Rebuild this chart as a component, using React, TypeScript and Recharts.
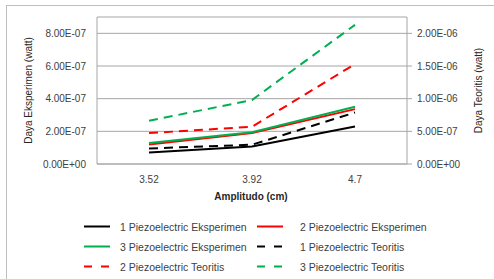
import { LineChart, Line, XAxis, YAxis, CartesianGrid, Label } from "recharts";

const amplitudes = ["3.52", "3.92", "4.7"];

// left axis (watt)
const eksperimen1 = [0.71e-7, 1.07e-7, 2.3e-7];
const eksperimen2 = [1.2e-7, 1.9e-7, 3.36e-7];
const eksperimen3 = [1.28e-7, 1.95e-7, 3.5e-7];

// right axis (watt)
const teoritis1 = [2.38e-7, 2.95e-7, 7.88e-7];
const teoritis2 = [4.73e-7, 5.7e-7, 1.53e-6];
const teoritis3 = [6.61e-7, 9.8e-7, 2.13e-6];

const leftTicks = [0, 2e-7, 4e-7, 6e-7, 8e-7];
const rightTicks = [0, 5e-7, 1e-6, 1.5e-6, 2e-6];

const series = [
  { key: "e1", name: "1 Piezoelectric Eksperimen", values: eksperimen1, color: "#000000", dashed: false, axis: "left" },
  { key: "e2", name: "2 Piezoelectric Eksperimen", values: eksperimen2, color: "#ff0000", dashed: false, axis: "left" },
  { key: "e3", name: "3 Piezoelectric Eksperimen", values: eksperimen3, color: "#00b050", dashed: false, axis: "left" },
  { key: "t1", name: "1 Piezoelectric Teoritis", values: teoritis1, color: "#000000", dashed: true, axis: "right" },
  { key: "t2", name: "2 Piezoelectric Teoritis", values: teoritis2, color: "#ff0000", dashed: true, axis: "right" },
  { key: "t3", name: "3 Piezoelectric Teoritis", values: teoritis3, color: "#00b050", dashed: true, axis: "right" },
];

const data = amplitudes.map((a, i) => {
  const row: Record<string, string | number> = { amp: a };
  series.forEach((s) => (row[s.key] = s.values[i]));
  return row;
});

const sci = (v: number) => {
  const [m, e] = v.toExponential(2).split("e");
  const n = Number(e);
  return `${m}E${n < 0 ? "-" : "+"}${String(Math.abs(n)).padStart(2, "0")}`;
};

const GRID = "#a6a6a6";
const TEXT = "#404040";
const DASH = "9 6";
const FONT = "'Liberation Sans', Arial, sans-serif";

function ChartLegend() {
  const rows = [226.5, 246.5, 266.5];
  const cols = [
    { line: 84, text: 120 },
    { line: 257, text: 300 },
  ];
  return (
    <svg width={494} height={279} style={{ position: "absolute", left: 0, top: 0 }}>
      {series.map((s, i) => {
        const c = cols[i % 2];
        const y = rows[Math.floor(i / 2)];
        return (
          <g key={s.key}>
            <line
              x1={c.line}
              x2={c.line + 26}
              y1={y}
              y2={y}
              stroke={s.color}
              strokeWidth={2}
              strokeDasharray={s.dashed ? "8 9" : undefined}
            />
            <text x={c.text} y={y} dominantBaseline="central" fontSize={10.5} fill={TEXT} fontFamily={FONT}>
              {s.name}
            </text>
          </g>
        );
      })}
    </svg>
  );
}

export default function App() {
  return (
    <div
      style={{
        position: "absolute",
        left: 0,
        top: 0,
        width: 494,
        height: 279,
        overflow: "hidden",
        background: "#fff",
        fontFamily: FONT,
      }}
    >
      <div
        style={{
          position: "absolute",
          left: 6,
          top: 5,
          width: 520,
          height: 320,
          border: "1px solid #bfbfbf",
        }}
      />
      <LineChart width={494} height={279} data={data} margin={{ top: 17, right: 0, bottom: 75, left: 0 }}>
        <CartesianGrid yAxisId="left" vertical={false} stroke={GRID} />
        <XAxis
          dataKey="amp"
          height={40}
          padding={{ left: 52, right: 52 }}
          tickLine={false}
          tickMargin={6}
          axisLine={{ stroke: GRID }}
          tick={{ fontSize: 10, fill: TEXT }}
        >
          <Label
            content={({ viewBox }: any) => (
              <text
                x={viewBox.x + viewBox.width / 2 - 1}
                y={viewBox.y + 32}
                textAnchor="middle"
                dominantBaseline="central"
                fontSize={10}
                fontWeight="bold"
                fill="#262626"
              >
                Amplitudo (cm)
              </text>
            )}
          />
        </XAxis>
        <YAxis
          yAxisId="left"
          width={97}
          domain={[0, 9e-7]}
          ticks={leftTicks}
          tickFormatter={sci}
          tickLine={false}
          tickMargin={5}
          axisLine={{ stroke: GRID }}
          tick={{ fontSize: 10, fill: TEXT }}
        >
          <Label
            content={({ viewBox }: any) => {
              const x = viewBox.x + 28;
              const y = viewBox.y + viewBox.height / 2;
              return (
                <text
                  x={x}
                  y={y}
                  transform={`rotate(-90 ${x} ${y})`}
                  textAnchor="middle"
                  dominantBaseline="central"
                  fontSize={10}
                  fill="#262626"
                >
                  Daya Eksperimen (watt)
                </text>
              );
            }}
          />
        </YAxis>
        <YAxis
          yAxisId="right"
          orientation="right"
          width={87}
          domain={[0, 2.25e-6]}
          ticks={rightTicks}
          tickFormatter={sci}
          tickSize={5}
          tickMargin={5}
          tickLine={{ stroke: GRID }}
          axisLine={{ stroke: GRID }}
          tick={{ fontSize: 10, fill: TEXT }}
        >
          <Label
            content={({ viewBox }: any) => {
              const x = viewBox.x + 71;
              const y = viewBox.y + viewBox.height / 2;
              return (
                <text
                  x={x}
                  y={y}
                  transform={`rotate(-90 ${x} ${y})`}
                  textAnchor="middle"
                  dominantBaseline="central"
                  fontSize={10}
                  fill="#262626"
                >
                  Daya Teoritis (watt)
                </text>
              );
            }}
          />
        </YAxis>
        {series.map((s) => (
          <Line
            key={s.key}
            yAxisId={s.axis}
            dataKey={s.key}
            name={s.name}
            type="linear"
            stroke={s.color}
            strokeWidth={2}
            strokeDasharray={s.dashed ? DASH : undefined}
            dot={false}
            activeDot={false}
            isAnimationActive={false}
          />
        ))}
      </LineChart>
      <ChartLegend />
    </div>
  );
}
